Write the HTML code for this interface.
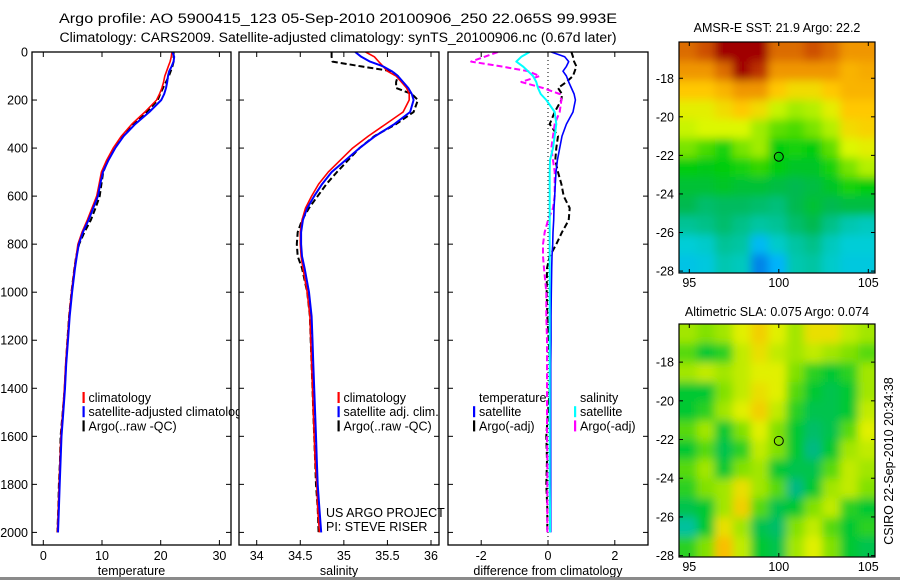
<!DOCTYPE html>
<html><head><meta charset="utf-8"><style>
html,body{margin:0;padding:0;background:#fff;}
svg{display:block;font-family:"Liberation Sans",sans-serif;}
</style></head><body>
<svg id="fig" width="900" height="580" viewBox="0 0 900 580" xmlns="http://www.w3.org/2000/svg">
<defs>
<clipPath id="clip1"><rect x="32" y="52" width="207" height="493"/></clipPath>
<clipPath id="clip2"><rect x="239" y="52" width="200" height="493"/></clipPath>
<clipPath id="clip3"><rect x="448" y="52" width="200" height="493"/></clipPath>
<clipPath id="clipM1"><rect x="679" y="42" width="196" height="231"/></clipPath>
<clipPath id="clipM2"><rect x="679" y="324" width="196" height="233"/></clipPath>
<filter id="smooth" x="-10%" y="-10%" width="120%" height="120%"><feGaussianBlur stdDeviation="4.5"/></filter>
</defs>
<text x="338" y="23" text-anchor="middle" font-size="13.5" textLength="558" lengthAdjust="spacingAndGlyphs">Argo profile: AO 5900415_123 05-Sep-2010 20100906_250 22.065S 99.993E</text>
<text x="338" y="42" text-anchor="middle" font-size="13.5" textLength="557" lengthAdjust="spacingAndGlyphs">Climatology: CARS2009. Satellite-adjusted climatology: synTS_20100906.nc (0.67d later)</text>
<g id="plots"></g>
<rect x="0" y="577" width="900" height="3" fill="#8a8a8a"/>
</svg>
<script>
// ---- profile data ----
const depths = [0,20,40,60,80,100,125,150,175,200,250,300,350,400,450,500,550,600,650,700,750,800,850,900,1000,1100,1200,1300,1400,1500,1600,1700,1800,1900,2000];
const climT = [21.9,21.8,21.6,21.3,21.0,20.7,20.5,20.2,19.8,19.3,17.3,15.1,13.3,11.9,10.8,9.9,9.5,9.1,8.3,7.5,6.6,5.9,5.6,5.3,4.8,4.4,4.1,3.8,3.6,3.3,3.0,2.85,2.7,2.55,2.4];
const satT = [22.0,22.3,22.2,21.85,21.45,21.25,21.1,20.9,20.6,20.1,18.05,15.65,13.7,12.25,11.1,10.15,9.7,9.3,8.5,7.7,6.75,6.05,5.7,5.4,4.9,4.5,4.2,3.9,3.7,3.4,3.1,2.95,2.8,2.65,2.5];
const argoT = [22.2,22.2,22.2,22.0,21.7,21.4,20.9,20.4,19.9,19.5,17.6,15.3,13.6,12.1,11.0,10.2,9.9,9.6,8.9,8.1,7.0,6.1,5.6,5.3,4.8,4.4,4.1,3.85,3.65,3.3,2.95,2.85,2.65,2.55,2.4];
const climS = [35.25,35.35,35.4,35.45,35.5,35.6,35.66,35.72,35.75,35.75,35.68,35.48,35.28,35.1,34.96,34.82,34.71,34.63,34.56,34.52,34.5,34.5,34.51,34.53,34.58,34.61,34.62,34.63,34.64,34.65,34.66,34.67,34.69,34.7,34.72];
const satS = [35.13,35.2,35.3,35.45,35.55,35.62,35.68,35.74,35.78,35.8,35.76,35.58,35.36,35.18,35.02,34.86,34.75,34.66,34.58,34.53,34.51,34.51,34.52,34.55,34.6,34.63,34.64,34.65,34.66,34.67,34.68,34.69,34.7,34.72,34.74];
const argoS = [34.86,34.86,34.87,35.2,35.55,35.62,35.6,35.6,35.78,35.85,35.8,35.6,35.35,35.18,35.05,34.92,34.8,34.7,34.6,34.52,34.47,34.46,34.47,34.52,34.58,34.61,34.62,34.63,34.64,34.65,34.66,34.67,34.68,34.7,34.71];
const diffSatT = [0.1,0.5,0.62,0.55,0.45,0.55,0.62,0.7,0.78,0.82,0.75,0.55,0.42,0.35,0.28,0.24,0.22,0.2,0.18,0.17,0.15,0.14,0.12,0.11,0.1,0.09,0.09,0.08,0.08,0.08,0.08,0.08,0.08,0.08,0.08];
const diffArgoT = [0.7,0.75,0.78,0.85,0.8,0.75,0.55,0.3,0.42,0.4,0.2,0.05,0.3,0.25,0.22,0.3,0.4,0.47,0.65,0.62,0.42,0.25,0.05,-0.03,-0.04,-0.02,0.02,0.06,0.05,0.0,-0.05,-0.03,-0.05,-0.02,-0.02];
const diffSatS = [-0.55,-0.8,-0.95,-0.75,-0.6,-0.45,-0.35,-0.3,-0.22,-0.05,0.2,0.25,0.2,0.15,0.06,0.05,0.05,0.05,0.05,0.05,0.05,0.05,0.05,0.05,0.05,0.05,0.05,0.05,0.05,0.05,0.05,0.05,0.05,0.06,0.06];
const diffArgoS = [-1.5,-1.9,-2.3,-1.4,-0.6,-0.25,-0.8,-0.15,0.35,0.4,0.35,0.2,0.15,0.1,0.15,0.2,0.2,0.2,0.15,0.0,-0.1,-0.15,-0.15,-0.12,-0.05,-0.05,-0.03,-0.03,-0.03,-0.03,-0.03,-0.02,-0.02,-0.02,-0.02];
const depthTicks = [0,200,400,600,800,1000,1200,1400,1600,1800,2000];
const tempTicks = [0,10,20,30];
const salTicks = [34,34.5,35,35.5,36];
const diffTicks = [-2,0,2];
// ---- map data (1-degree cells, rows north->south, cols west->east) ----
const mapLonTicks = [95,100,105];
const mapLatTicks = [-18,-20,-22,-24,-26,-28];
const argoLon = 100.0;
const argoLat = -22.07;
const sst = [
[23.8,24.0,24.5,24.5,24.5,23.8,23.8,24.0,23.8,23.5,23.5],
[23.5,23.5,23.8,24.5,24.2,23.5,23.5,23.5,23.5,23.2,23.3],
[23.0,23.0,23.2,23.5,23.5,23.0,22.8,22.8,23.0,23.2,23.2],
[22.6,22.6,22.8,23.0,22.8,22.4,22.2,22.3,22.6,23.0,23.0],
[22.4,22.5,22.5,22.5,22.2,21.9,21.8,22.0,22.3,22.8,22.9],
[22.0,21.8,21.6,22.0,22.2,21.5,21.6,21.5,21.9,22.5,22.6],
[21.5,21.4,21.5,21.6,21.7,21.5,21.3,21.3,21.6,22.0,22.3],
[21.2,21.2,21.3,21.2,21.2,21.1,21.0,21.1,21.3,21.6,21.5],
[21.0,20.8,20.9,20.9,20.8,20.7,21.0,21.2,21.0,21.1,21.1],
[20.5,20.6,20.8,20.6,20.4,20.5,20.8,21.0,20.6,20.3,20.2],
[20.0,20.1,20.5,20.4,19.6,20.1,20.4,20.6,20.2,20.0,20.0],
[19.8,19.9,20.3,20.2,19.2,19.5,20.3,20.4,20.1,19.9,19.9]];
const sla = [
[0.10,0.09,0.10,0.12,0.14,0.12,0.10,0.13,0.13,0.11,0.10],
[0.08,0.06,0.07,0.11,0.13,0.11,0.10,0.11,0.10,0.09,0.08],
[0.10,0.11,0.10,0.11,0.12,0.12,0.09,0.07,0.06,0.07,0.10],
[0.06,0.06,0.09,0.11,0.13,0.12,0.08,0.06,0.05,0.06,0.10],
[0.06,0.07,0.10,0.12,0.14,0.11,0.07,0.05,0.05,0.06,0.11],
[0.08,0.10,0.06,0.09,0.12,0.09,0.06,0.04,0.05,0.08,0.12],
[0.06,0.08,0.05,0.07,0.11,0.09,0.06,0.03,0.06,0.10,0.11],
[0.08,0.10,0.06,0.09,0.10,0.06,0.05,0.05,0.08,0.11,0.10],
[0.07,0.09,0.10,0.13,0.10,0.08,0.03,0.06,0.10,0.11,0.09],
[0.05,0.06,0.10,0.14,0.08,0.05,0.06,0.09,0.11,0.07,0.06],
[0.02,0.06,0.13,0.10,0.05,0.04,0.09,0.11,0.08,0.06,0.07],
[0.07,0.09,0.15,0.11,0.06,0.05,0.10,0.12,0.09,0.06,0.05]];

const NS = 'http://www.w3.org/2000/svg';
const root = document.getElementById('plots');
function mk(tag, attrs, parent) {
  const e = document.createElementNS(NS, tag);
  for (const k in attrs) e.setAttribute(k, attrs[k]);
  (parent || root).appendChild(e);
  return e;
}
function lin(d0, d1, r0, r1) { return v => r0 + (v - d0) * (r1 - r0) / (d1 - d0); }

const yD = lin(0, 2000, 52, 532.4);
const xT = lin(0, 30, 43.3, 219.4);
const xS = lin(34, 36, 256.7, 431);
const xD = lin(-2, 2, 481.2, 614.8);

function axesBox(x0, x1, name) {
  const r = mk('rect', {x: x0, y: 52, width: x1 - x0, height: 493, fill: 'none', stroke: '#000', 'stroke-width': 1.3});
  
  
}
function profileAxes(x0, x1, xs, ticks, fmt, label, name, leftLabels) {
  const g = mk('g', {});
  
  
  depthTicks.forEach(d => {
    const y = yD(d);
    mk('line', {x1: x0, x2: x0 + 5, y1: y, y2: y, stroke: '#000'}, g);
    mk('line', {x1: x1 - 5, x2: x1, y1: y, y2: y, stroke: '#000'}, g);
    if (leftLabels) {
      const t = mk('text', {x: x0 - 4, y: y + 4.5, 'text-anchor': 'end', 'font-size': 12.5}, g);
      t.textContent = d;
      
      
    }
  });
  ticks.forEach(v => {
    const x = xs(v);
    mk('line', {x1: x, x2: x, y1: 52, y2: 57, stroke: '#000'}, g);
    mk('line', {x1: x, x2: x, y1: 540, y2: 545, stroke: '#000'}, g);
    const t = mk('text', {x: x, y: 560, 'text-anchor': 'middle', 'font-size': 12.5}, g);
    t.textContent = fmt(v);
    
    
  });
  const xl = mk('text', {x: (x0 + x1) / 2, y: 575, 'text-anchor': 'middle', 'font-size': 12.5}, g);
  xl.textContent = label;
  
  
}
function drawLine(vals, xs, color, dash, width, clip, name) {
  let d = '';
  vals.forEach((v, i) => { d += (i ? 'L' : 'M') + xs(v).toFixed(1) + ',' + yD(depths[i]).toFixed(1); });
  const attrs = {d: d, fill: 'none', stroke: color, 'stroke-width': width, 'clip-path': 'url(#' + clip + ')', 'stroke-linejoin': 'round'};
  if (dash) attrs['stroke-dasharray'] = dash;
  const p = mk('path', attrs);
  
  
}
function legend(items, bx, y0, name, clip) {
  const g = mk('g', clip ? {'clip-path': 'url(#' + clip + ')'} : {});
  
  
  items.forEach((it, i) => {
    const y = y0 + i * 14.2;
    if (it[1]) mk('rect', {x: bx, y: y - 6, width: 2.2, height: 11, fill: it[1]}, g);
    const t = mk('text', {x: bx + 6, y: y + 4, 'font-size': 12.5}, g);
    t.textContent = it[0];
    
    
  });
}

// panel 1: temperature
profileAxes(32, 231, xT, tempTicks, v => v, 'temperature', 'temperature-axes', true);
drawLine(argoT, xT, '#000', '6 3', 2, 'clip1', 'argo-temperature-line');
drawLine(climT, xT, '#f00', null, 1.6, 'clip1', 'climatology-temperature-line');
drawLine(satT, xT, '#00f', null, 2, 'clip1', 'satellite-temperature-line');
axesBox(32, 231, 'temperature-panel');
legend([['climatology', '#f00'], ['satellite-adjusted climatology', '#00f'], ['Argo(..raw -QC)', '#000']], 82.5, 398, 'temperature-legend', 'clip1');

// panel 2: salinity
mk('rect', {x: 239, y: 52, width: 200, height: 493, fill: '#fff'});
profileAxes(239, 439, xS, salTicks, v => v, 'salinity', 'salinity-axes', false);
drawLine(argoS, xS, '#000', '6 3', 2, 'clip2', 'argo-salinity-line');
drawLine(climS, xS, '#f00', null, 1.6, 'clip2', 'climatology-salinity-line');
drawLine(satS, xS, '#00f', null, 2, 'clip2', 'satellite-salinity-line');
axesBox(239, 439, 'salinity-panel');
legend([['climatology', '#f00'], ['satellite adj. clim.', '#00f'], ['Argo(..raw -QC)', '#000']], 337.5, 398, 'salinity-legend', 'clip2');
legend([['US ARGO PROJECT', null], ['PI: STEVE RISER', null]], 320, 513, 'project-credit', null);

// panel 3: differences
profileAxes(448, 648, xD, diffTicks, v => v, 'difference from climatology', 'difference-axes', false);
const zl = mk('line', {x1: xD(0), x2: xD(0), y1: 52, y2: 545, stroke: '#000', 'stroke-width': 1, 'stroke-dasharray': '1 3'});


drawLine(diffArgoT, xD, '#000', '6 3', 2, 'clip3', 'argo-temperature-difference-line');
drawLine(diffArgoS, xD, '#f0f', '6 3', 2, 'clip3', 'argo-salinity-difference-line');
drawLine(diffSatT, xD, '#00f', null, 1.6, 'clip3', 'satellite-temperature-difference-line');
drawLine(diffSatS, xD, '#0ff', null, 2, 'clip3', 'satellite-salinity-difference-line');
axesBox(448, 648, 'difference-panel');
legend([['temperature', null], ['satellite', '#00f'], ['Argo(-adj)', '#000']], 473, 398, 'temperature-difference-legend', null);
legend([['salinity', null], ['satellite', '#0ff'], ['Argo(-adj)', '#f0f']], 574, 398, 'salinity-difference-legend', null);

// ---- maps ----
function interpColor(stops, v) {
  if (v <= stops[0][0]) return stops[0][1];
  for (let i = 1; i < stops.length; i++) {
    if (v <= stops[i][0]) {
      const f = (v - stops[i-1][0]) / (stops[i][0] - stops[i-1][0]);
      const a = stops[i-1][1], b = stops[i][1];
      return a.map((c, k) => Math.round(c + f * (b[k] - c)));
    }
  }
  return stops[stops.length - 1][1];
}
const sstStops = [[19,[0,100,220]],[19.5,[0,180,250]],[20,[0,205,215]],[20.5,[0,195,150]],[21,[0,185,80]],[21.5,[0,205,10]],[22,[120,228,0]],[22.5,[220,248,0]],[23,[255,200,0]],[23.5,[240,150,0]],[24,[205,80,0]],[24.5,[160,0,0]]];
const slaStops = [[0.0,[0,210,210]],[0.03,[0,185,130]],[0.06,[0,200,50]],[0.09,[130,225,0]],[0.12,[225,240,0]],[0.15,[250,190,0]]];

function drawMap(grid, stops, top, bottom, latTop, latBot, clip, name, title, titleY) {
  const xL = lin(95, 105, 689.3, 868.3);
  const yL = lin(latTop, latBot, top, bottom);
  const outer = mk('g', {'clip-path': 'url(#' + clip + ')'});
  
  
  ['base', 'smooth'].forEach(layer => {
    const g = mk('g', layer === 'smooth' ? {filter: 'url(#smooth)'} : {}, outer);
    
    
    grid.forEach((row, r) => {
      row.forEach((v, c) => {
        const c0 = interpColor(stops, v);
        const lon = 94.42 + c, lat = latTop - r;
        let x0 = xL(lon), x1 = xL(lon + 1), y0 = yL(lat), y1 = yL(lat - 1);
        if (layer === 'smooth') {
          if (c === 0) x0 -= 15;
          if (c === row.length - 1) x1 += 15;
          if (r === 0) y0 -= 15;
          if (r === grid.length - 1) y1 += 15;
        }
        const cell = mk('rect', {x: x0.toFixed(2), y: y0.toFixed(2), width: (x1 - x0 + 0.6).toFixed(2), height: (y1 - y0 + 0.6).toFixed(2), fill: 'rgb(' + c0.join(',') + ')'}, g);
        
        
      });
    });
  });
  const ax = mk('g', {});
  
  
  mk('rect', {x: 679, y: top, width: 196, height: bottom - top, fill: 'none', stroke: '#000', 'stroke-width': 1.2}, ax);
  mapLonTicks.forEach(v => {
    const x = xL(v);
    mk('line', {x1: x, x2: x, y1: top, y2: top + 4, stroke: '#000'}, ax);
    mk('line', {x1: x, x2: x, y1: bottom - 4, y2: bottom, stroke: '#000'}, ax);
    const t = mk('text', {x: x, y: bottom + 14, 'text-anchor': 'middle', 'font-size': 12.5}, ax);
    t.textContent = v;
    
    
  });
  mapLatTicks.forEach(v => {
    const y = yL(v);
    mk('line', {x1: 679, x2: 683, y1: y, y2: y, stroke: '#000'}, ax);
    mk('line', {x1: 871, x2: 875, y1: y, y2: y, stroke: '#000'}, ax);
    const t = mk('text', {x: 674, y: y + 4.5, 'text-anchor': 'end', 'font-size': 12.5}, ax);
    t.textContent = v;
    
    
  });
  const m = mk('circle', {cx: xL(argoLon), cy: yL(argoLat), r: 4.5, fill: 'none', stroke: '#000', 'stroke-width': 1});
  
  
  const tt = mk('text', {x: 777, y: titleY, 'text-anchor': 'middle', 'font-size': 12.5});
  tt.textContent = title;
  
  
}
drawMap(sst, sstStops, 42, 273, -16.12, -28.1, 'clipM1', 'sst-map', 'AMSR-E SST: 21.9 Argo: 22.2', 32);
drawMap(sla, slaStops, 324, 557, -16.03, -28.07, 'clipM2', 'sla-map', 'Altimetric SLA: 0.075 Argo: 0.074', 316);

const st = mk('text', {x: 0, y: 0, 'text-anchor': 'middle', 'font-size': 12.5, transform: 'translate(893,461) rotate(-90)'});
st.textContent = 'CSIRO 22-Sep-2010 20:34:38';


</script>
</body></html>
